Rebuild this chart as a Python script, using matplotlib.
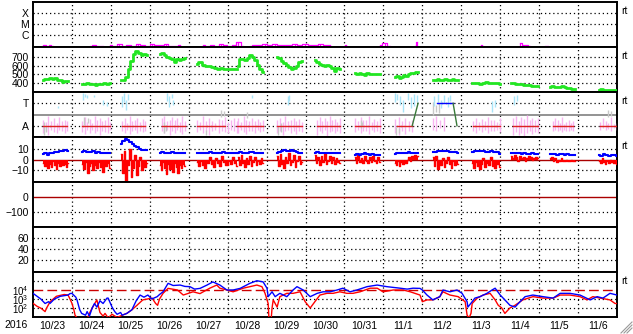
import numpy as np
import matplotlib
matplotlib.use("Agg")
import matplotlib.pyplot as plt
from matplotlib.lines import Line2D

plt.rcParams['font.family'] = ['Liberation Sans', 'DejaVu Sans']
plt.rcParams['mathtext.default'] = 'regular'

# time axis: days since 2016-10-23 00:00
day_labels = ["10/23", "10/24", "10/25", "10/26", "10/27", "10/28", "10/29", "10/30",
              "10/31", "11/1", "11/2", "11/3", "11/4", "11/5", "11/6"]

# ---- X-ray flux (segments: start day, end day, values W/m2)
xray_segs = [
    (0.23, 0.51, [1.1e-7, 1.3e-7, 1.0e-7, 1.2e-7, 1.05e-7]),
    (1.46, 1.80, [1.0e-7, 1.3e-7, 1.1e-7, 1.0e-7]),
    (1.98, 3.78, [1.2e-7, 1.1e-7, 1.4e-7, 1.1e-7, 1.3e-7, 1.05e-7, 1.5e-7, 1.2e-7,
                  1.1e-7, 1.6e-7, 1.3e-7, 1.2e-7, 1.4e-7, 1.1e-7, 1.05e-7, 1.3e-7]),
    (4.37, 5.39, [1.2e-7, 1.05e-7, 1.3e-7, 1.1e-7, 1.4e-7, 1.2e-7, 1.1e-7, 1.3e-7, 2.5e-7, 1.1e-7]),
    (5.57, 7.63, [1.1e-7, 1.3e-7, 1.2e-7, 1.6e-7, 1.2e-7, 1.4e-7, 1.3e-7, 1.2e-7, 1.3e-7,
                  1.5e-7, 1.2e-7, 1.4e-7, 1.3e-7, 1.2e-7, 1.5e-7, 1.3e-7, 1.2e-7]),
    (7.98, 8.03, [1.1e-7, 1.2e-7]),
    (8.90, 9.17, [1.3e-7, 2.0e-7, 1.1e-7]),
    (9.80, 9.87, [1.1e-7, 2.5e-7]),
    (11.50, 11.55, [1.2e-7, 1.1e-7]),
    (12.50, 12.77, [1.8e-7, 1.2e-7, 1.1e-7]),
    (13.15, 13.23, [1.1e-7, 1.1e-7]),
]

# ---- solar wind speed (km/s), segments
spd_t0 = [0.26, 1.26, 2.26, 3.26, 4.21, 5.27, 6.27, 7.24, 8.27, 9.30, 10.27, 11.28, 12.28, 13.28, 14.54]
spd_t1 = [0.90, 1.98, 2.93, 3.90, 5.24, 5.91, 6.91, 7.88, 8.91, 9.89, 10.92, 12.00, 12.97, 13.92, 15.00]
spd_vals = [
    [440, 445, 450, 455, 448, 460, 440, 430, 415, 420, 418],
    [395, 385, 400, 390, 392, 380, 395, 390, 398, 388, 405],
    [430, 440, 470, 560, 650, 730, 770, 740, 720, 735, 715],
    [730, 745, 720, 700, 690, 680, 640, 670, 665, 680, 690],
    [620, 640, 610, 600, 590, 580, 575, 560, 570, 565, 565, 565, 566, 565],
    [590, 670, 680, 665, 690, 720, 700, 660, 610, 560, 530],
    [700, 690, 650, 630, 610, 580, 560, 575, 600, 640, 650],
    [660, 645, 620, 610, 600, 605, 590, 575, 540, 570, 560],
    [510, 500, 515, 505, 495, 510, 500, 505, 498, 500, 502],
    [470, 480, 460, 475, 490, 485, 500, 510, 520, 530, 525],
    [435, 440, 445, 440, 438, 450, 440, 435, 445, 440, 438],
    [400, 405, 398, 395, 400, 410, 402, 398, 405, 400, 395],
    [405, 400, 395, 390, 385, 380, 378, 375, 372, 370, 368],
    [360, 362, 360, 358, 360, 362, 355, 345, 340, 335, 333],
    [325, 328, 322, 325, 320, 325, 322, 326],
]

# ---- IMF longitude (deg): pink ranges per segment
phi_t0 = [0.26, 1.26, 2.29, 3.31, 4.21, 5.27, 6.27, 7.30, 8.27, 9.30, 10.27, 11.30, 12.33, 13.36, 14.56]
phi_t1 = [0.88, 1.98, 2.88, 3.90, 5.24, 5.91, 6.91, 7.88, 8.91, 9.74, 10.55, 12.00, 12.97, 13.87, 15.00]
phi_lo = [
    [30, 50, 20, 60, 40, 35, 55, 45, 30, 50],
    [40, 25, 55, 35, 60, 30, 45, 20, 50, 40, 35, 55],
    [50, 35, 60, 25, 45, 55, 30, 50, 40, 45],
    [45, 30, 55, 20, 50, 35, 60, 40, 25, 50],
    [40, 55, 30, 50, 20, 45, 60, 35, 50, 40, 30, 55, 45, 35],
    [35, 55, 40, 25, 50, 45, 30, 55, 40, 50],
    [30, 50, 15, 45, 60, 35, 50, 25, 45, 40],
    [20, 45, 30, 55, 10, 40, 50, 35, 45, 30],
    [40, 55, 30, 50, 45, 25, 55, 40, 50, 35],
    [30, 15, 45, 25, 50, 40],
    [60, 45, 70, 50],
    [50, 35, 60, 40, 55, 30, 50, 45, 60, 40],
    [20, 40, 15, 35, 10, 30, 45, 25, 40, 30],
    [50, 60, 45, 55, 40, 60, 50, 45, 55, 50],
    [60, 70, 55, 65, 50, 70, 60],
]
phi_hi = [
    [140, 120, 170, 130, 150, 110, 160, 125, 140, 130],
    [130, 160, 120, 145, 115, 170, 135, 150, 125, 140, 160, 120],
    [125, 150, 110, 165, 130, 140, 155, 120, 145, 125],
    [150, 170, 125, 140, 160, 135, 150, 120, 165, 130],
    [140, 120, 165, 130, 150, 125, 110, 145, 135, 160, 120, 140, 155, 130],
    [150, 120, 165, 140, 125, 155, 130, 145, 120, 135],
    [135, 150, 120, 165, 125, 140, 155, 130, 145, 120],
    [140, 160, 125, 150, 130, 170, 135, 145, 120, 150],
    [150, 125, 160, 135, 140, 165, 120, 145, 130, 155],
    [145, 160, 130, 150, 125, 140],
    [150, 170, 140, 160],
    [130, 150, 120, 145, 125, 160, 135, 140, 120, 150],
    [150, 170, 130, 160, 145, 175, 135, 155, 140, 150],
    [130, 150, 135, 115, 160, 105, 120, 140, 110, 125],
    [120, 150, 130, 115, 160, 105, 115],
]
cyan_t = [0.64, 1.28, 1.33, 1.39, 1.57, 1.80, 1.90, 2.29, 2.34, 2.39, 2.44, 3.44, 3.50, 3.56, 3.60,
          5.63, 6.55, 6.58, 9.30, 9.36, 9.43, 9.50, 9.62, 9.70, 9.78, 9.86, 10.30, 10.40, 10.48,
          10.56, 10.65, 10.72, 11.80, 11.86, 12.35, 12.42]
cyan_lo = [230, 300, 320, 310, 320, 260, 250, 240, 280, 220, 300, 290, 240, 310, 260,
           310, 260, 290, 280, 300, 260, 200, 300, 230, 250, 280, 250, 280, 230,
           270, 240, 290, 200, 240, 260, 290]
cyan_hi = [250, 350, 345, 340, 340, 300, 280, 330, 350, 300, 345, 350, 330, 345, 300,
           340, 330, 340, 350, 345, 330, 300, 350, 320, 345, 340, 330, 345, 300,
           340, 320, 335, 290, 300, 330, 340]
gray_t = [0.27, 0.33, 1.30, 1.42, 3.36, 3.42, 4.45, 4.82, 4.90, 5.50, 6.30, 6.36, 8.42, 8.46,
          9.32, 9.40, 10.28, 10.36, 10.43, 14.76, 14.85]
gray_lo = [20, 40, 100, 110, 30, 50, 20, 160, 170, 150, 20, 40, 70, 90, 20, 30, 180, 200, 190, 160, 170]
gray_hi = [120, 90, 160, 150, 120, 100, 60, 215, 210, 200, 90, 110, 140, 120, 80, 70, 280, 260, 270, 215, 210]
# sector polarity (90 = away, 270 = toward)
sector_t0 = [0.26, 1.26, 2.29, 3.31, 4.21, 5.24, 6.27, 7.30, 8.27, 9.35, 10.37, 11.30, 12.33, 13.36, 14.56]
sector_t1 = [0.88, 1.98, 2.88, 3.90, 4.93, 5.91, 6.91, 7.88, 8.91, 9.74, 10.79, 12.00, 12.97, 13.87, 15.00]
sector_val = [90, 90, 90, 90, 90, 90, 90, 90, 90, 90, 270, 90, 90, 90, 90]
sector_sw_t = [(9.74, 9.89), (10.79, 10.89)]
sector_sw_v = [(90, 270), (270, 90)]

# ---- IMF Bt (blue) and Bz (red), nT
bt_vals = [
    [5, 6, 4.5, 5.5, 6, 7, 6.5, 7.5, 8, 8.5, 8],
    [7, 7.5, 6.5, 7, 7.5, 6, 6.5, 5.5, 6, 5.5, 6],
    [14, 17, 19, 18, 16, 14, 12, 11, 10, 9, 8.5, 8.5],
    [6, 6.5, 6, 5.5, 6, 6.5, 6, 6, 5.5, 6, 6],
    [5.5, 6, 5.5, 6, 6.5, 6, 5.5, 6, 6.5, 6, 5.5, 6, 6],
    [6, 6.5, 6, 5.5, 6, 7, 6.5, 6, 5.5, 6, 6],
    [6, 7, 8, 8.5, 7.5, 8, 9, 8, 6.5, 5.5, 6],
    [6, 6.5, 6, 5.5, 6, 6, 5.5, 6, 5.5, 5.5, 5.5],
    [4.5, 5, 4, 5, 5.5, 5, 4.5, 5, 4, 4.5, 4.5],
    [5, 6, 6, 5.5, 6, 6, 6.5, 6, 6, 6, 5.5],
    [6.5, 7, 8, 8, 7.5, 8, 8, 7, 6.5, 7, 6],
    [7, 8, 8, 7.5, 8, 7, 6.5, 7.5, 7, 6.5, 5],
    [6, 6, 5.5, 6, 5, 5.5, 5, 5, 5.5, 5, 5],
    [5, 5, 5, 4.5, 5, 5, 4.5, 5, 4.5, 4.5, 4.5],
    [4, 3.5, 5, 4, 3.5, 4.5, 4, 3.5],
]
bz_vals = [
    [-3, -6, -2, -8, -4, -7, -1, -5, -9, -3, -6, -2, -5, -4, -7, -3],
    [-4, -9, -2, -12, -6, -3, -10, -5, -8, -2, -7, -11, -4, -6, -3, -8],
    [5, -12, 8, -20, -5, 10, -16, -8, 4, -14, -6, 2, -10, -4, -7, -3],
    [-5, -10, -2, -8, -13, -4, -9, -6, -11, -3, -7, -12, -5, -8, -4, -6],
    [-2, -6, -1, -5, -8, -3, 2, -4, -7, 1, -3, -6, 3, -2, -5, -1, -4, 2, -3, -6],
    [2, -5, 4, -3, -7, 1, -4, 3, -6, -2, 2, -5, -1, -4, 1, -3],
    [3, -6, 5, -4, -8, 2, -3, 6, -5, -2, 4, -7, -1, 3, -4, -2],
    [4, -3, 2, -5, 3, -2, 5, -4, -1, 3, -3, 2, -4, 1, -2, -3],
    [2, -3, 4, -2, 1, -3, 3, -1, -3, 2, -2, 3, -1, -3, 2, -2],
    [-3, -5, -1, -6, -2, -4, -1, -3, 0, 2, -1, 3, 1, 4, 2, 3],
    [2, -6, 3, -9, -2, -5, 1, -7, -3, 2, -4, -8, -1, -5, -2, -4],
    [-3, -8, -2, -6, -9, -4, 1, -7, -3, -5, 2, -6, -8, -2, -4, -7],
    [3, 1, 4, 2, -1, 3, 1, 2, -1, 1, 3, 2, 0, 1, 2, 1],
    [1, 2, -1, 1, -2, 0, -1, 1, -1, -1, 0, -1, -1, 0, -1, -1],
    [-1, -3, 1, -2, -4, -1, -3, 0, -2, -3, -1, -4],
]

# ---- electron flux (log10)
ef1_t = [0.0, 0.2, 0.31, 0.4, 0.44, 0.55, 0.7, 0.9, 0.95, 1.0, 1.1, 1.13, 1.2, 1.25, 1.35, 1.39,
         1.45, 1.52, 1.58, 1.64, 1.72, 1.80, 1.9, 1.93, 2.03, 2.1, 2.16, 2.25, 2.29, 2.41, 2.54,
         2.65, 2.75, 2.85, 2.95, 3.05, 3.19, 3.25, 3.34, 3.47, 3.6, 3.78, 3.9, 4.03, 4.15, 4.29,
         4.47, 4.62, 4.80, 4.98, 5.14, 5.32, 5.57, 5.75, 5.91, 6.01, 6.04, 6.14, 6.22, 6.34,
         6.52, 6.68, 6.78, 6.94, 7.12, 7.30, 7.45, 7.63, 7.81, 7.96, 8.14, 8.32, 8.58, 8.84,
         9.09, 9.43, 9.61, 9.76, 9.94, 10.0, 10.12, 10.27, 10.45, 10.53, 10.71, 10.89, 11.02,
         11.15, 11.17, 11.28, 11.35, 11.48, 11.66, 11.79, 11.87, 12.0, 12.12, 12.25, 12.38,
         12.51, 12.64, 12.84, 13.1, 13.36, 13.54, 13.79, 14.05, 14.31, 14.49, 14.64, 14.82, 15.0]
ef1_log = [3.63, 3.0, 2.5, 2.7, 2.52, 3.0, 3.3, 3.44, 3.6, 3.63, 3.2, 2.9, 1.8, 1.4, 1.2, 1.6,
           1.1, 2.0, 2.5, 2.1, 2.8, 2.5, 3.1, 3.1, 2.1, 1.6, 1.3, 1.5, 1.2, 1.4, 1.8,
           2.8, 3.44, 3.2, 3.44, 3.0, 3.26, 3.5, 3.8, 4.74, 4.5, 4.55, 4.4, 4.37, 4.1, 4.18,
           4.55, 4.9, 4.55, 4.0, 4.0, 4.18, 4.74, 5.03, 4.9, 4.2, 3.26, 3.8, 3.26, 3.63,
           3.26, 4.0, 4.37, 4.0, 3.26, 3.63, 3.8, 3.8, 4.0, 4.2, 3.8, 4.0, 4.37, 4.55,
           4.37, 4.2, 4.1, 4.2, 4.18, 4.0, 3.44, 2.9, 3.26, 4.0, 3.8, 4.0, 3.63,
           2.7, 2.1, 2.7, 3.1, 3.26, 3.63, 4.0, 4.2, 3.44, 2.9, 2.3, 2.1,
           2.7, 3.26, 3.44, 3.26, 3.1, 3.63, 3.63, 3.44, 2.9, 3.26, 3.1, 3.63, 3.44]
ef2_t = [0.0, 0.1, 0.21, 0.31, 0.35, 0.44, 0.6, 0.8, 0.9, 0.95, 1.0, 1.05, 1.08, 1.13, 1.4,
         1.46, 1.52, 1.64, 1.72, 1.80, 1.85, 1.93, 2.03, 2.16, 2.29, 2.41, 2.54, 2.67, 2.82,
         3.06, 3.15, 3.2, 3.25, 3.34, 3.47, 3.71, 3.86, 4.11, 4.29, 4.54, 4.72, 4.80, 4.98,
         5.14, 5.40, 5.57, 5.75, 5.88, 5.96, 6.04, 6.06, 6.12, 6.14, 6.17, 6.27, 6.34, 6.52,
         6.68, 6.86, 6.99, 7.12, 7.24, 7.37, 7.55, 7.71, 7.88, 8.06, 8.22, 8.40, 8.66, 8.84,
         8.99, 9.25, 9.51, 9.69, 9.94, 10.0, 10.12, 10.27, 10.45, 10.53, 10.71, 10.92, 11.10,
         11.15, 11.20, 11.25, 11.28, 11.41, 11.56, 11.74, 11.87, 11.95, 12.04, 12.12, 12.25,
         12.38, 12.58, 12.84, 13.1, 13.36, 13.54, 13.79, 14.05, 14.23, 14.38, 14.57, 14.82,
         14.95, 15.0]
ef2_log = [2.52, 2.2, 1.96, 1.6, 2.0, 2.7, 3.3, 3.5, 3.44, 3.0, 2.52, 1.8, 1.2, 0.9, 0.9,
           1.5, 2.0, 2.9, 1.5, 1.1, 1.4, 0.9, 1.3, 0.95, 1.2, 1.4, 1.8, 2.3, 2.9,
           3.1, 2.5, 2.3, 3.0, 3.63, 4.18, 4.0, 3.44, 3.8, 3.6, 4.2, 4.55, 4.2, 4.0,
           3.8, 4.2, 4.37, 4.55, 4.37, 3.63, 2.5, 0.9, 0.9, 2.0, 2.9, 2.1, 3.26, 3.63,
           3.63, 3.8, 2.7, 2.0, 2.7, 3.44, 3.63, 3.63, 3.8, 3.63, 3.63, 3.8, 4.2, 4.2,
           3.8, 4.0, 4.0, 3.8, 3.44, 2.7, 2.9, 2.9, 3.26, 3.8, 3.44, 3.26, 2.7,
           1.2, 0.9, 1.4, 2.5, 3.1, 3.44, 3.63, 2.9, 2.3, 2.0, 1.4, 2.0,
           2.3, 2.9, 3.26, 3.1, 3.1, 3.44, 3.44, 3.26, 2.9, 3.26, 3.1, 2.9,
           2.5, 2.5]

# ---------------------------------------------------------------
W, H = 633, 334
fig = plt.figure(figsize=(W / 100, H / 100), dpi=100)
x0, x1 = 33, 617
ptop, ph = 2, 45
axes = []
for i in range(7):
    top = ptop + ph * i
    axes.append(fig.add_axes([x0 / W, 1 - (top + ph) / H, (x1 - x0) / W, ph / H]))

dot = (0, (1, 2.3))
fs = 7.5
for ax in axes:
    ax.set_xlim(0, 15)
    for s in ax.spines.values():
        s.set_linewidth(1.4)
        s.set_color("black")
    ax.tick_params(length=0, labelsize=fs, pad=3)
    ax.set_xticks([])
    for d in range(1, 15):
        ax.axvline(d, color="black", ls=dot, lw=0.9, zorder=1)


def hgrid(ax, levels):
    for v in levels:
        ax.axhline(v, color="black", ls=dot, lw=0.9, zorder=1)


# panel 1: X-ray
ax = axes[0]
ax.set_yscale("log")
ax.set_ylim(8.1e-8, 1e-3)
ax.set_yticks([1e-4, 1e-5, 1e-6])
ax.set_yticklabels(["X", "M", "C"])
ax.minorticks_off()
hgrid(ax, [1e-4, 1e-5, 1e-6])
for t0, t1, vals in xray_segs:
    tt = np.linspace(t0, t1, len(vals))
    ax.vlines(tt, 8.1e-8, vals, color="#ff00ff", lw=0.9, zorder=3)
    ax.step(tt, vals, where="mid", color="#ff00ff", lw=0.9, zorder=3)

# panel 2: speed
ax = axes[1]
ax.set_ylim(298, 812)
ax.set_yticks([700, 600, 500, 400])
hgrid(ax, [400, 500, 600, 700])
for t0, t1, vals in zip(spd_t0, spd_t1, spd_vals):
    tt = np.linspace(t0, t1, len(vals))
    ax.step(tt, vals, where="mid", color="#22e622", lw=2.0, zorder=3)

# panel 3: IMF direction
ax = axes[2]
ax.set_ylim(0, 360)
ax.set_yticks([270, 90])
ax.set_yticklabels(["T", "A"])
hgrid(ax, [90, 270])
ax.axhline(180, color="#808080", lw=1.2, zorder=2)
for t0, t1, lo, hi in zip(phi_t0, phi_t1, phi_lo, phi_hi):
    tt = np.linspace(t0, t1, len(lo))
    ax.vlines(tt, lo, hi, color="#f8b4f0", lw=1.0, zorder=3)
ax.vlines(gray_t, gray_lo, gray_hi, color="#c8c8c8", lw=1.0, zorder=3)
ax.vlines(cyan_t, cyan_lo, cyan_hi, color="#a8e4f8", lw=1.0, zorder=3)
for t0, t1, v in zip(sector_t0, sector_t1, sector_val):
    ax.plot([t0, t1], [v, v], color="#dd2222" if v == 90 else "#0000ff", lw=1.0, zorder=4)
for tt, vv in zip(sector_sw_t, sector_sw_v):
    ax.plot(tt, vv, color="#3a7a3a", lw=1.0, zorder=4)

# panel 4: IMF Bt / Bz
ax = axes[3]
ax.set_ylim(-20.5, 20.5)
ax.set_yticks([10, 0, -10])
hgrid(ax, [10, -10])
ax.axhline(0, color="#aa0000", lw=1.0, zorder=2)
for t0, t1, bt, bz in zip(spd_t0, spd_t1, bt_vals, bz_vals):
    tb = np.linspace(t0, t1, len(bt))
    tz = np.linspace(t0, t1, len(bz))
    ax.fill_between(tz, 0, bz, step="mid", color="#ff0000", lw=0, zorder=3)
    ax.step(tz, bz, where="mid", color="#ff0000", lw=1.0, zorder=3)
    ax.step(tb, bt, where="mid", color="#0000ff", lw=1.5, zorder=4)

# panel 5: Dst
ax = axes[4]
ax.set_ylim(-198, 102)
ax.set_yticks([0, -100])
hgrid(ax, [-100])
ax.axhline(0, color="#aa0000", lw=1.0, zorder=2)

# panel 6: empty index panel
ax = axes[5]
ax.set_ylim(-1.3, 80.5)
ax.set_yticks([60, 40, 20])
hgrid(ax, [20, 40, 60])

# panel 7: electron flux
ax = axes[6]
ax.set_yscale("log")
ax.set_ylim(1e1, 1e6)
ax.set_yticks([1e4, 1e3, 1e2])
ax.set_yticklabels([r"$10^4$", r"$10^3$", r"$10^2$"], fontsize=7)
ax.minorticks_off()
hgrid(ax, [1e5, 1e3, 1e2])
ax.axhline(1e4, color="#cc0000", lw=1.0, ls=(0, (7, 3)), zorder=2)
ax.plot(ef2_t, 10 ** np.array(ef2_log), color="#ff0000", lw=1.0, zorder=3)
ax.plot(ef1_t, 10 ** np.array(ef1_log), color="#0000ff", lw=1.0, zorder=4)
ax.set_xticks(np.arange(15) + 0.5)
ax.set_xticklabels(day_labels)
ax.tick_params(axis="x", pad=3)

fig.text(16 / W, 1 - 325 / H, "2016", ha="center", va="center", fontsize=fs)
for y in [11, 56, 101, 146, 281]:
    fig.text(621 / W, 1 - y / H, "rt", ha="left", va="center", fontsize=7.5)

# resize grip at the corner
for k in range(3):
    off = 3 * k
    fig.add_artist(Line2D([(W - 12 + off) / W, (W - 1) / W],
                          [1 - (H - 1) / H, 1 - (H - 12 + off) / H],
                          transform=fig.transFigure, color="#999999", lw=0.8))

fig.savefig("out.png", dpi=100)
